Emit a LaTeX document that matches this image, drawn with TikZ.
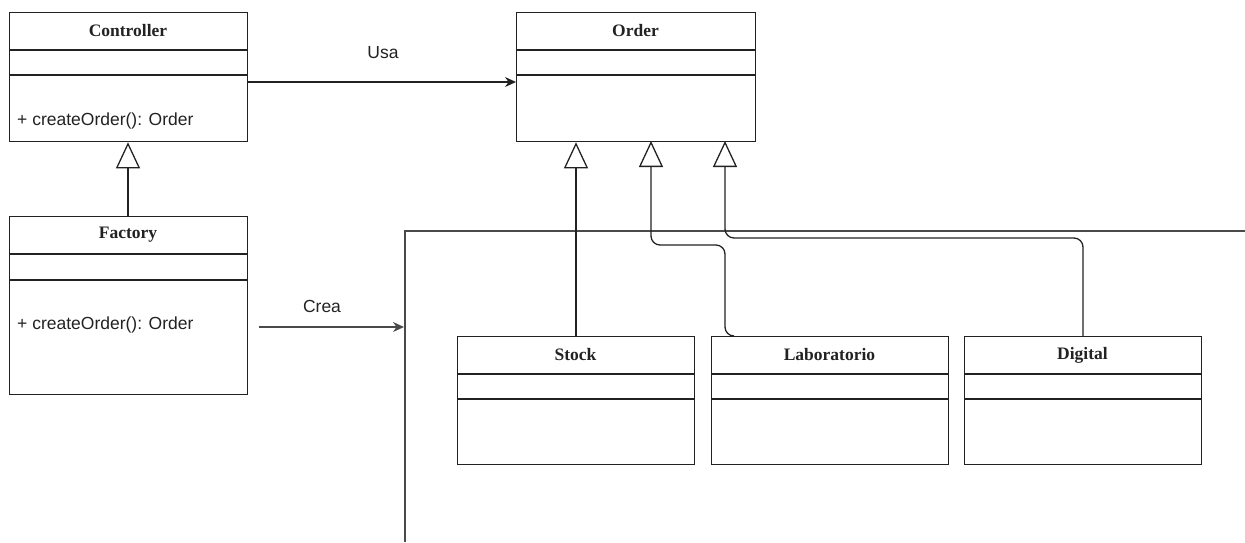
\documentclass[tikz,border=0pt]{standalone}
\usepackage{fontspec}
\setmainfont{Liberation Serif}
\newfontfamily\arialf{Liberation Sans}
\usetikzlibrary{arrows.meta}
\definecolor{ln}{HTML}{222222}
\definecolor{fr}{HTML}{4A4A4A}
\tikzset{
  classbox/.style={draw=ln, line width=1.3pt, rectangle, inner sep=0pt, anchor=north west},
  ctitle/.style={font=\fontsize{17.5}{20}\selectfont\bfseries, text=ln, inner sep=0pt},
  cmeth/.style={font=\arialf\fontsize{17.5}{20}\selectfont, text=ln, inner sep=0pt, anchor=west},
  sep/.style={draw=ln, line width=1.3pt},
  inherit/.style={draw=ln, line width=1.3pt, -{Triangle[open, length=26pt, width=24pt, line width=1.3pt]}},
  uses/.style={draw=ln, line width=1.3pt, -{Stealth[length=11pt, width=10pt]}},
  frame/.style={draw=fr, line width=1.5pt},
  lbl/.style={font=\arialf\fontsize{17.5}{20}\selectfont, text=ln, inner sep=0pt},
}
\begin{document}
\begin{tikzpicture}[x=1pt,y=-1pt]
\useasboundingbox (0,0) rectangle (1245,542);
% Controller
\node[classbox, minimum width=238pt, minimum height=129pt] (ctrl) at (9,12) {};
\draw[sep] (9,50) -- (247,50) (9,75) -- (247,75);
\node[ctitle] (ctrlT) at (128,31) {Controller};
\node[cmeth] (ctrlM) at (17,121) {+ createOrder(): Order};
% Order
\node[classbox, minimum width=239pt, minimum height=129pt] (order) at (516,12) {};
\draw[sep] (516,50) -- (755,50) (516,75) -- (755,75);
\node[ctitle] (orderT) at (635.5,31) {Order};
% Factory
\node[classbox, minimum width=238pt, minimum height=178pt] (fact) at (9,216) {};
\draw[sep] (9,254) -- (247,254) (9,280) -- (247,280);
\node[ctitle] (factT) at (128,235) {Factory};
\node[cmeth] (factM) at (17,325) {+ createOrder(): Order};
% Stock
\node[classbox, minimum width=237pt, minimum height=128pt] (stock) at (457,336) {};
\draw[sep] (457,374) -- (694,374) (457,399) -- (694,399);
\node[ctitle] (stockT) at (575.5,355) {Stock};
% Laboratorio
\node[classbox, minimum width=237pt, minimum height=128pt] (lab) at (711,336) {};
\draw[sep] (711,374) -- (948,374) (711,399) -- (948,399);
\node[ctitle] (labT) at (829.5,355) {Laboratorio};
% Digital
\node[classbox, minimum width=237pt, minimum height=128pt] (dig) at (964,336) {};
\draw[sep] (964,374) -- (1201,374) (964,399) -- (1201,399);
\node[ctitle] (digT) at (1082.5,355) {Digital};
% frame (partial)
\coordinate (frB) at (405,542);
\coordinate (frC) at (405,231);
\coordinate (frR) at (1245,231);
\draw[frame] (frB) -- (frC) -- (frR);
% Usa
\draw[uses] (ctrl.east |- 0,82) -- (order.west |- 0,82);
\node[lbl] (usa) at (383,53) {Usa};
% Crea
\coordinate (creaS) at (259,327);
\coordinate (creaE) at (404,327);
\draw[uses, draw=fr] (creaS) -- (creaE);
\node[lbl] (crea) at (322,306) {Crea};
% inheritance
\draw[inherit] (fact.north -| 128,0) -- (ctrl.south -| 128,0);
\draw[inherit] (stock.north -| 576,0) -- (order.south -| 576,0);
\draw[inherit, rounded corners=9pt] (731,336) -- (725,336) -- (725,245) -- (651,245) -- (651,141);
\draw[inherit, rounded corners=9pt] (1083,336) -- (1083,238) -- (725,238) -- (725,141);
\end{tikzpicture}
\end{document}
